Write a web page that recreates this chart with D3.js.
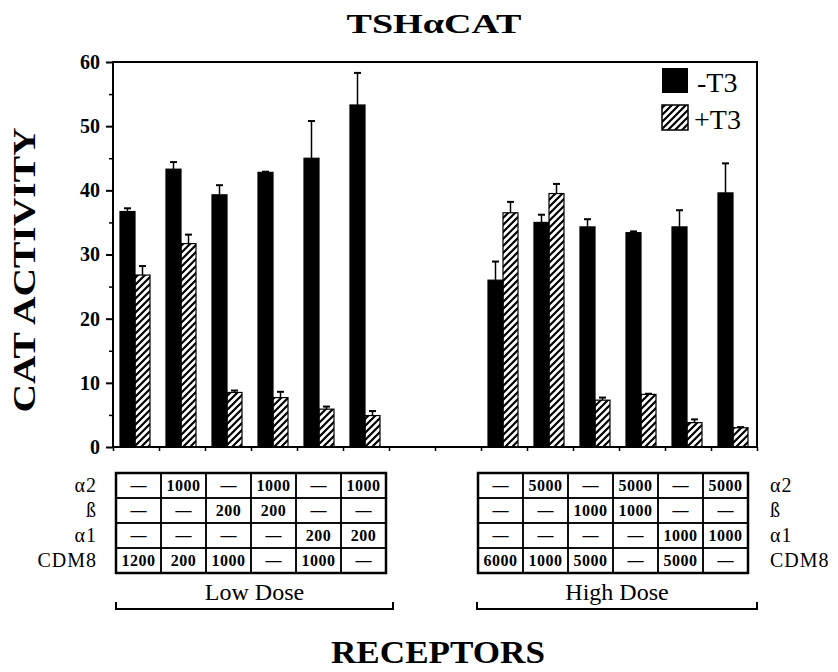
<!DOCTYPE html>
<html>
<head>
<meta charset="utf-8">
<script src="https://cdn.jsdelivr.net/npm/d3@7"></script>
<style>
  body { margin: 0; background: #fff; }
  text { font-family: "Liberation Serif", "DejaVu Serif", serif; fill: #000; }
</style>
</head>
<body>
<script>
var width = 838;
var height = 672;

// data
var lowMinus = [36.7, 43.3, 39.3, 42.8, 45.0, 53.3];
var lowMinusErr = [0.5, 1.1, 1.5, 0.1, 5.8, 5.0];
var lowPlus = [26.8, 31.7, 8.5, 7.7, 5.9, 4.9];
var lowPlusErr = [1.4, 1.4, 0.3, 0.9, 0.4, 0.7];
var highMinus = [26.0, 35.0, 34.3, 33.4, 34.3, 39.6];
var highMinusErr = [2.9, 1.2, 1.2, 0.2, 2.6, 4.6];
var highPlus = [36.5, 39.5, 7.3, 8.2, 3.8, 3.0];
var highPlusErr = [1.7, 1.5, 0.4, 0.1, 0.5, 0.1];

var rowLabels = ["\u03b12", "\u00df", "\u03b11", "CDM8"];
var lowTable = [
  ["\u2014", "1000", "\u2014", "1000", "\u2014", "1000"],
  ["\u2014", "\u2014", "200", "200", "\u2014", "\u2014"],
  ["\u2014", "\u2014", "\u2014", "\u2014", "200", "200"],
  ["1200", "200", "1000", "\u2014", "1000", "\u2014"]
];
var highTable = [
  ["\u2014", "5000", "\u2014", "5000", "\u2014", "5000"],
  ["\u2014", "\u2014", "1000", "1000", "\u2014", "\u2014"],
  ["\u2014", "\u2014", "\u2014", "\u2014", "1000", "1000"],
  ["6000", "1000", "5000", "\u2014", "5000", "\u2014"]
];
var yTicks = [0, 10, 20, 30, 40, 50, 60];
var lowSlots = [0, 1, 2, 3, 4, 5];
var highSlots = [8, 9, 10, 11, 12, 13];

var svg = d3.select("body").append("svg")
    .attr("width", width)
    .attr("height", height);

var defs = svg.append("defs");
defs.append("pattern")
    .attr("id", "hatch")
    .attr("patternUnits", "userSpaceOnUse")
    .attr("width", 7)
    .attr("height", 7)
  .append("path")
    .attr("d", "M-1,1 l2,-2 M0,7 l7,-7 M6,8 l2,-2")
    .attr("stroke", "#000")
    .attr("stroke-width", 2.2);

var plotL = 113, plotR = 757, plotT = 62, plotB = 447;

var x0 = d3.scaleBand()
    .domain(d3.range(14))
    .range([plotL, plotR]);
var x1 = d3.scaleBand()
    .domain(["minus", "plus"])
    .range([7, 37]);
var y = d3.scaleLinear()
    .domain([0, 60])
    .range([plotB, plotT]);

// frame
svg.append("rect")
    .attr("x", plotL).attr("y", plotT)
    .attr("width", plotR - plotL).attr("height", plotB - plotT)
    .attr("fill", "none").attr("stroke", "#000").attr("stroke-width", 2);

// y axis
var yAxis = svg.append("g")
    .attr("transform", "translate(" + plotL + ",0)")
    .call(d3.axisLeft(y).tickValues(yTicks).tickSize(7).tickPadding(6));
yAxis.select(".domain").remove();
yAxis.selectAll("line").attr("stroke-width", 2);
yAxis.selectAll("text")
    .style("font-family", "Liberation Serif")
    .style("font-size", "20px")
    .style("font-weight", "bold");

var yMinor = svg.append("g")
    .attr("transform", "translate(" + plotL + ",0)")
    .call(d3.axisLeft(y).tickValues([5, 15, 25, 35, 45, 55]).tickSize(4).tickFormat(""));
yMinor.select(".domain").remove();
yMinor.selectAll("line").attr("stroke-width", 1.5);

// x ticks at slot boundaries
var xTick = d3.scaleLinear().domain([0, 14]).range([plotL, plotR]);
svg.append("g")
    .attr("transform", "translate(0," + plotB + ")")
    .call(d3.axisBottom(xTick).ticks(14).tickSize(4).tickFormat(""))
    .call(function(g) {
      g.select(".domain").remove();
      g.selectAll("line").attr("stroke-width", 1.5);
    });

function drawSeries(slots, values, errs, key) {
  var g = svg.append("g");
  var bw = x1.bandwidth();
  var items = slots.map(function(s, i) { return { slot: s, v: values[i], e: errs[i] }; });
  g.selectAll("line.err")
    .data(items)
    .enter().append("line")
      .attr("x1", function(d) { return x0(d.slot) + x1(key) + bw / 2; })
      .attr("x2", function(d) { return x0(d.slot) + x1(key) + bw / 2; })
      .attr("y1", function(d) { return y(d.v); })
      .attr("y2", function(d) { return y(d.v + d.e); })
      .attr("stroke", "#000").attr("stroke-width", 1.5);
  g.selectAll("line.cap")
    .data(items)
    .enter().append("line")
      .attr("x1", function(d) { return x0(d.slot) + x1(key) + bw / 2 - 3.5; })
      .attr("x2", function(d) { return x0(d.slot) + x1(key) + bw / 2 + 3.5; })
      .attr("y1", function(d) { return y(d.v + d.e); })
      .attr("y2", function(d) { return y(d.v + d.e); })
      .attr("stroke", "#000").attr("stroke-width", 2);
  g.selectAll("rect")
    .data(items)
    .enter().append("rect")
      .attr("x", function(d) { return x0(d.slot) + x1(key); })
      .attr("y", function(d) { return y(d.v); })
      .attr("width", bw)
      .attr("height", function(d) { return y(0) - y(d.v); })
      .attr("fill", key == "minus" ? "#000" : "url(#hatch)")
      .attr("stroke", "#000")
      .attr("stroke-width", 1.2);
}

drawSeries(lowSlots, lowMinus, lowMinusErr, "minus");
drawSeries(lowSlots, lowPlus, lowPlusErr, "plus");
drawSeries(highSlots, highMinus, highMinusErr, "minus");
drawSeries(highSlots, highPlus, highPlusErr, "plus");

// legend
var legend = svg.append("g");
legend.append("rect").attr("x", 662).attr("y", 68).attr("width", 26).attr("height", 25)
    .attr("fill", "#000");
legend.append("rect").attr("x", 662).attr("y", 105).attr("width", 26).attr("height", 25)
    .attr("fill", "url(#hatch)").attr("stroke", "#000").attr("stroke-width", 1.5);
legend.append("text").attr("x", 697).attr("y", 92).style("font-size", "28px").text("-T3");
legend.append("text").attr("x", 694).attr("y", 129).style("font-size", "28px").text("+T3");

// titles
svg.append("text")
    .attr("x", 434).attr("y", 33)
    .attr("text-anchor", "middle")
    .attr("textLength", 175).attr("lengthAdjust", "spacingAndGlyphs")
    .style("font-size", "27px").style("font-weight", "bold")
    .text("TSH\u03b1CAT");

svg.append("text")
    .attr("transform", "translate(35,270) rotate(-90)")
    .attr("text-anchor", "middle")
    .attr("textLength", 285).attr("lengthAdjust", "spacingAndGlyphs")
    .style("font-size", "32px").style("font-weight", "bold")
    .text("CAT ACTIVITY");

svg.append("text")
    .attr("x", 438).attr("y", 663)
    .attr("text-anchor", "middle")
    .attr("textLength", 214).attr("lengthAdjust", "spacingAndGlyphs")
    .style("font-size", "31px").style("font-weight", "bold")
    .text("RECEPTORS");

// tables
var cellW = 45, cellH = 25, tableTop = 473;

function drawTable(x, rows) {
  var g = svg.append("g").attr("transform", "translate(" + x + "," + tableTop + ")");
  rows.forEach(function(row, r) {
    row.forEach(function(cell, c) {
      g.append("rect")
        .attr("x", c * cellW).attr("y", r * cellH)
        .attr("width", cellW).attr("height", cellH)
        .attr("fill", "none").attr("stroke", "#000").attr("stroke-width", 1.5);
      g.append("text")
        .attr("x", c * cellW + cellW / 2).attr("y", r * cellH + 18)
        .attr("text-anchor", "middle")
        .style("font-size", "16px").style("font-weight", "bold")
        .style("letter-spacing", cell.length > 1 ? "0.5px" : "0px")
        .text(cell);
    });
  });
  g.append("rect")
    .attr("width", cellW * 6).attr("height", cellH * 4)
    .attr("fill", "none").attr("stroke", "#000").attr("stroke-width", 2.5);
}

drawTable(116, lowTable);
drawTable(478, highTable);

rowLabels.forEach(function(label, r) {
  svg.append("text")
    .attr("x", 97).attr("y", tableTop + r * cellH + 19)
    .attr("text-anchor", "end")
    .style("font-size", "20px").style("letter-spacing", "1px")
    .text(label);
  svg.append("text")
    .attr("x", 770).attr("y", tableTop + r * cellH + 19)
    .style("font-size", "20px").style("letter-spacing", "1px")
    .text(label);
});

// dose brackets
function bracket(x1b, x2b, label) {
  svg.append("path")
    .attr("d", "M" + x1b + ",602 V609 H" + x2b + " V602")
    .attr("fill", "none").attr("stroke", "#000").attr("stroke-width", 2);
  svg.append("text")
    .attr("x", (x1b + x2b) / 2).attr("y", 600)
    .attr("text-anchor", "middle")
    .style("font-size", "24px")
    .text(label);
}
bracket(116, 393, "Low Dose");
bracket(477, 757, "High Dose");
</script>
</body>
</html>
